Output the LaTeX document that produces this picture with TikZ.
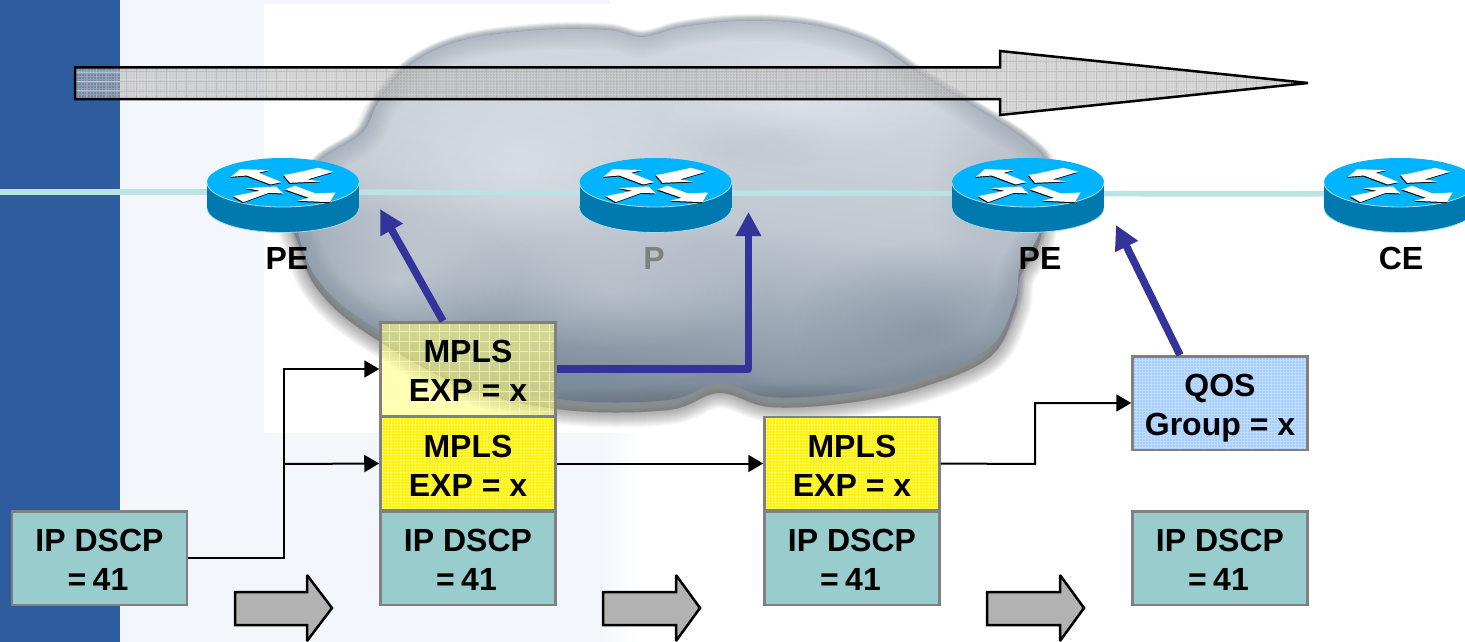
\documentclass[tikz,border=0pt]{standalone}
\usepackage{fontspec}
\setmainfont{Liberation Sans}
\usetikzlibrary{arrows.meta,fadings}
\definecolor{bandblue}{HTML}{2E5C9E}
\definecolor{palebg}{HTML}{F3F6FB}
\definecolor{tealbox}{HTML}{99CCCC}
\definecolor{boxedge}{HTML}{808080}
\definecolor{linkcol}{HTML}{BCE3E3}
\definecolor{rtop}{HTML}{00B4FF}
\definecolor{rbody}{HTML}{007AAE}
\definecolor{rhi}{HTML}{A8DCF0}
\definecolor{indigo}{HTML}{333399}
\definecolor{smallgrey}{HTML}{B2B2B2}
\definecolor{skyfill}{HTML}{A6CFFF}
\definecolor{palefill}{HTML}{FFFF80}
\definecolor{cloudtop}{HTML}{D8DDE4}
\definecolor{cloudmid}{HTML}{C0C8D1}
\definecolor{cloudlow}{HTML}{6E7F90}
\definecolor{cloudrim}{HTML}{7F8D9C}
\tikzfading[name=softblob,inner color=transparent!0,outer color=transparent!100]
\newcommand{\cloudoutline}{plot[smooth cycle,tension=.6] coordinates {(321,160) (362,133) (380,100) (413,63) (464,40) (541,30) (607,30) (643,37) (683,27) (745,21) (811,25) (872,43) (918,73) (974,107) (1025,140) (1046,167) (1040,230) (1020,267) (1015,300) (990,347) (923,377) (847,393) (770,397) (719,383) (668,400) (566,400) (464,377) (362,320) (316,277) (298,233) (290,200)}}
\newcommand{\routericon}[2]{%
\begin{scope}[shift={(#1,#2)}]
\fill[rbody] (-76,0) rectangle (76,25.5);
\fill[rbody] (0,25.5) ellipse (76 and 24.5);
\draw[rhi,line width=.8pt] (-76,25.5) arc[start angle=180,end angle=0,x radius=76,y radius=24.5];
\fill[rtop] (0,0) ellipse (76 and 24.5);
\draw[rhi,line width=.8pt] (-76,0) arc[start angle=180,end angle=0,x radius=76,y radius=24.5];
\begin{scope}[scale=.3333,shift={(-249,-97)}]
\foreach \ox/\oy/\col in {-2/3/black,0/0/white}{
\fill[\col,shift={(\ox,\oy)}] (93,80)--(120,57)--(207,60)--(176,68)--(245,96)--(212,103)--(140,76)--cycle;
\fill[\col,shift={(\ox,\oy)}] (250,74)--(268,72)--(355,53)--(400,65)--(322,88)--(362,94)--(270,98)--cycle;
\fill[\col,shift={(\ox,\oy)}] (100,138)--(180,122)--(138,114)--(228,109)--(250,130)--(207,128)--(130,156)--cycle;
\fill[\col,shift={(\ox,\oy)}] (255,118)--(285,107)--(347,130)--(407,127)--(390,156)--(293,152)--(327,143)--cycle;
}
\end{scope}
\end{scope}}
\newcommand{\twolines}[2]{\rule{0pt}{26pt}#1\\#2}
\newcommand{\dscptext}{\twolines{IP DSCP}{=\kern-2.5pt\ 41\kern3pt}}
\tikzset{
 boxbase/.style={draw=boxedge,line width=2.5pt,minimum width=175pt,minimum height=93.5pt,inner sep=0pt,align=center,
   font=\fontsize{32}{39}\selectfont\bfseries},
 finegrid/.style={path picture={\draw[#1,line width=.3pt,step=3pt] (path picture bounding box.south west) grid (path picture bounding box.north east);}},
 dscpbox/.style={boxbase,fill=tealbox},
 mplsbox/.style={boxbase,fill=yellow,finegrid={white!30!yellow}},
 palebox/.style={boxbase,fill=palefill,fill opacity=.6,text opacity=1,draw opacity=1,
   path picture={\draw[yellow!20!white,opacity=.6,line width=.5pt,step=10pt] (path picture bounding box.south west) grid (path picture bounding box.north east);}},
 qosbox/.style={boxbase,fill=skyfill,finegrid={white!25!skyfill}},
 rlabel/.style={font=\fontsize{32}{39}\selectfont\bfseries,inner sep=0pt},
 thinlink/.style={line width=2pt,black,-{Triangle[length=15pt,width=17pt]}},
 boldlink/.style={line width=7.5pt,indigo,line join=round,-{Triangle[length=24pt,width=24pt]}},
 cable/.style={line width=5.7pt,linkcol},
 rnode/.style={inner sep=0pt,minimum size=0pt},
 stepshape/.style={fill=smallgrey,draw=black,line width=2.5pt,miter limit=3},
}
\begin{document}
\begin{tikzpicture}[x=1pt,y=-1pt]
\clip (0,0) rectangle (1465,642);
% background
\fill[white] (0,0) rectangle (1465,642);
\fill[palebg] (120,0) rectangle (610,4);
\fill[palebg] (120,0) rectangle (264,642);
\fill[palebg] (264,433) rectangle (600,642);
\shade[left color=palebg,right color=white] (600,433) rectangle (640,642);
\fill[bandblue] (0,0) rectangle (120,642);
% cloud soft edge and shadow
\begin{scope}
\clip (264,4) rectangle (1465,440);
\foreach \w in {30,28,...,2}{
 \fill[black!70,opacity=.035,line width=\w pt,draw=black!70,draw opacity=.035,shift={(0,10)}] \cloudoutline;
}
\end{scope}
\foreach \w in {14,13,...,1}{
 \draw[cloudrim,opacity=.06,line width=\w pt] \cloudoutline;
}
\begin{scope}
\clip \cloudoutline;
\shade[top color=cloudtop,bottom color=cloudlow,middle color=cloudmid,shading angle=-8] (280,15) rectangle (1060,410);
\fill[white,path fading=softblob,opacity=.35] (520,170) ellipse (220 and 130);
\fill[white,path fading=softblob,opacity=.3] (800,100) ellipse (150 and 60);
\fill[white,path fading=softblob,opacity=.25] (610,290) ellipse (160 and 60);
\fill[white,path fading=softblob,opacity=.35] (400,280) ellipse (120 and 70);
\fill[cloudlow,path fading=softblob,opacity=.45] (930,330) ellipse (140 and 90);
\fill[cloudrim,path fading=softblob,opacity=.12] (760,140) ellipse (90 and 30);
\fill[cloudrim,path fading=softblob,opacity=.25] (1000,190) ellipse (70 and 130);
\foreach \w in {40,36,...,4}{
 \draw[cloudrim,opacity=.04,line width=\w pt] \cloudoutline;
}
\fill[black!70,path fading=softblob,opacity=.5] (760,405) ellipse (280 and 22);
\end{scope}
% grey span arrow
\begin{scope}
\clip (75,67.5)--(1000,67.5)--(1000,51)--(1309,83)--(1000,115)--(1000,99)--(75,99)--cycle;
\fill[black!33,opacity=.55] (70,45) rectangle (1315,120);
\begin{scope}[shift={(6,1)}]
\draw[white,opacity=.2,line width=.3pt,step=3pt] (60,40) grid (1310,120);
\draw[black!30,opacity=.6,line width=.7pt,step=10pt] (60,40) grid (1310,120);
\end{scope}
\begin{scope}
\clip (70,60) rectangle (120,105);
\draw[white,opacity=.4,line width=.7pt] (70,72) -- (120,72) (70,81) -- (120,81) (70,90) -- (120,90);
\end{scope}
\end{scope}
\draw[black,line width=2.5pt,miter limit=3] (75,67.5)--(1000,67.5)--(1000,51)--(1308,83)--(1000,115)--(1000,99)--(75,99)--cycle;
% routers and links
\coordinate (lfree) at (0,192);
\node[rnode] (r1) at (283,192) {};
\node[rnode] (r2) at (655,193) {};
\node[rnode] (r3) at (1028,193.5) {};
\node[rnode] (r4) at (1400,194) {};
\draw[cable] (lfree) -- (r1);
\draw[cable] (r1) -- (r2);
\draw[cable] (r2) -- (r3);
\draw[cable] (r3) -- (r4);
\routericon{283}{182.5}
\routericon{655.5}{182.5}
\routericon{1028}{182.5}
\routericon{1400}{182.5}
\node[rlabel] (lpe1) at (287,258) {PE};
\node[rlabel,text=boxedge] (lp) at (654,258) {P};
\node[rlabel] (lpe2) at (1040,258) {PE};
\node[rlabel] (lce) at (1401,258) {CE};
% boxes
\node[dscpbox] (ip1) at (99.5,558) {\dscptext};
\node[dscpbox] (ip2) at (468,558) {\dscptext};
\node[dscpbox] (ip3) at (852,558) {\dscptext};
\node[dscpbox] (ip4) at (1220,558) {\dscptext};
\node[mplsbox] (m2) at (468,463.5) {\twolines{MPLS}{EXP = x}};
\node[mplsbox] (m3) at (852,463.5) {\twolines{MPLS}{EXP = x}};
\node[palebox] (m1) at (468,369) {\twolines{MPLS}{EXP = x}};
\node[qosbox] (q) at (1220,403) {\rule{0pt}{32.7pt}QOS\\Group = x};
% thin connectors
\coordinate (t1) at (284,558);
\coordinate (t2) at (284,464);
\coordinate (t3) at (1035,464);
\draw[thinlink] (ip1.east) -- (t1) |- (m1.west);
\draw[thinlink] (t2) -- (m2.west);
\draw[thinlink] (m2.east) -- (m3.west);
\draw[thinlink] (m3.east) -- (t3) |- (q.west);
% bold connectors
\coordinate (tipa) at (380,209);
\coordinate (tipb) at (748.5,212);
\coordinate (tipc) at (1116,225);
\draw[boldlink] ([xshift=-25pt]m1.north) -- (tipa);
\draw[boldlink] (m1.east) -| (tipb);
\draw[boldlink] ([xshift=-40pt]q.north) -- (tipc);
% progress arrows
\draw[stepshape] (235,592)--(307,592)--(307,575)--(332,608)--(307,641)--(307,625)--(235,625)--cycle;
\draw[stepshape] (603,592)--(676,592)--(676,575)--(700,608)--(676,641)--(676,625)--(603,625)--cycle;
\draw[stepshape] (987,592)--(1060,592)--(1060,575)--(1084,608)--(1060,641)--(1060,625)--(987,625)--cycle;
\end{tikzpicture}
\end{document}
